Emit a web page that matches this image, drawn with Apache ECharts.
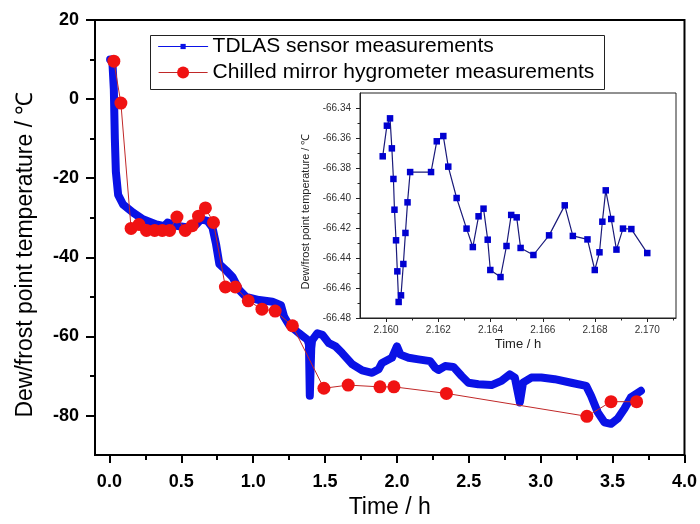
<!DOCTYPE html>
<html>
<head>
<meta charset="utf-8">
<script src="https://cdn.jsdelivr.net/npm/echarts/dist/echarts.min.js"></script>
<style>html,body{margin:0;padding:0;background:#fff}#c{width:700px;height:524px}</style>
</head>
<body>
<div id="c"></div>
<script>
// ---- Main chart data ----
const tdlasTime = [0.005,0.02,0.031,0.038,0.045,0.061,0.096,0.165,0.234,0.327,0.384,0.405,0.465,0.557,0.604,0.638,0.682,0.717,0.742,0.765,0.812,0.857,0.904,0.950,1.042,1.134,1.193,1.215,1.250,1.319,1.377,1.388,1.394,1.400,1.404,1.410,1.446,1.481,1.527,1.573,1.619,1.688,1.758,1.827,1.873,1.896,1.965,2.000,2.024,2.081,2.150,2.231,2.266,2.289,2.335,2.393,2.450,2.497,2.566,2.658,2.727,2.785,2.820,2.855,2.877,2.935,3.004,3.097,3.212,3.316,3.350,3.397,3.443,3.489,3.535,3.582,3.627,3.697];
const tdlasTemp = [10,10,2.5,-10,-18.3,-24.2,-26.7,-28.7,-30.4,-31.7,-32.1,-31.2,-32,-32.5,-31.7,-30.4,-30.8,-32.5,-36.7,-41.7,-43.3,-45,-48.3,-50,-50.8,-51.25,-52.1,-55,-57.1,-59.2,-60.8,-62,-75,-75.2,-63,-61,-59.2,-59.6,-61.7,-62.5,-64.2,-67,-68.6,-69.2,-68.3,-66.7,-65.4,-62.5,-64.6,-65.4,-65.8,-66.25,-67.9,-68.5,-67.5,-67.7,-70,-71.7,-72.1,-72.3,-71.25,-69.6,-70.4,-76.7,-71.7,-70.4,-70.4,-70.8,-71.7,-72.5,-75,-79.2,-81.7,-82.1,-80.8,-78.3,-75.4,-73.75];

const mirrorTime = [0.031,0.080,0.151,0.206,0.258,0.315,0.368,0.419,0.470,0.528,0.576,0.620,0.668,0.724,0.807,0.876,0.966,1.061,1.153,1.273,1.492,1.661,1.882,1.979,2.344,3.321,3.489,3.667];
const mirrorTemp = [9.6,-1,-32.7,-31.7,-33.2,-33.2,-33.2,-33.2,-29.8,-33.2,-32,-29.6,-27.5,-31.2,-47.5,-47.5,-51,-53.1,-53.6,-57.3,-73.1,-72.3,-72.75,-72.75,-74.4,-80.2,-76.5,-76.5];

// ---- Inset data ----
const insetTime = [2.15987,2.16003,2.16015,2.16022,2.16028,2.16032,2.16038,2.16043,2.16048,2.16057,2.16066,2.16074,2.16082,2.16092,2.16172,2.16194,2.16219,2.16238,2.16270,2.16308,2.16332,2.16354,2.16373,2.16389,2.16399,2.16438,2.16461,2.16479,2.16500,2.16515,2.16564,2.16624,2.16684,2.16715,2.16771,2.16799,2.16817,2.16828,2.16841,2.16862,2.16882,2.16907,2.16939,2.17000];
const insetTemp = [-66.3722,-66.3518,-66.3469,-66.3669,-66.3873,-66.4078,-66.4282,-66.4489,-66.4693,-66.4649,-66.4440,-66.4233,-66.4029,-66.3827,-66.3827,-66.3622,-66.3587,-66.3791,-66.4000,-66.4204,-66.4327,-66.4122,-66.4071,-66.4278,-66.4480,-66.4527,-66.4320,-66.4113,-66.4129,-66.4333,-66.4380,-66.4249,-66.4049,-66.4253,-66.4276,-66.4480,-66.4362,-66.4158,-66.3949,-66.4140,-66.4344,-66.4204,-66.4207,-66.4367];

// ---- Tick labels ----
const mainXTicks = [0,0.5,1,1.5,2,2.5,3,3.5,4];
const mainXMinor = [0.25,0.75,1.25,1.75,2.25,2.75,3.25,3.75];
const mainYTicks = [-80,-60,-40,-20,0,20];
const mainYMinor = [-70,-50,-30,-10,10];
const insetXTicks = [2.160,2.162,2.164,2.166,2.168,2.170];
const insetXMinor = [2.161,2.163,2.165,2.167,2.169,2.171];
const insetYTicks = [-66.48,-66.46,-66.44,-66.42,-66.40,-66.38,-66.36,-66.34];
const insetYMinor = [-66.47,-66.45,-66.43,-66.41,-66.39,-66.37,-66.35];

const seriesNames = ['TDLAS sensor measurements','Chilled mirror hygrometer measurements'];
const yName = 'Dew/frost point temperature / \u2103';
const xName = 'Time / h';

const zip = (a,b) => a.map((v,i) => [v,b[i]]);
const FONT = "'Liberation Sans', Arial, sans-serif";
const BLUE = '#0a12e6';

const chart = echarts.init(document.getElementById('c'), null, {renderer:'canvas'});
chart.setOption({
  animation: false,
  textStyle: {fontFamily: FONT},
  grid: [
    {left: 95, top: 20, right: 13, bottom: 65, show: true, borderColor: '#000', borderWidth: 2, backgroundColor: 'transparent'},
    {left: 360, top: 93, width: 316, height: 225, show: true, borderColor: '#222', borderWidth: 1, backgroundColor: '#fff'}
  ],
  graphic: [{
    type: 'rect', left: 148, top: 33, z: 0,
    shape: {width: 454, height: 54},
    style: {fill: 'none', stroke: '#222', lineWidth: 1}
  }],
  legend: [
    {data: [seriesNames[0]], left: 158, top: 36, padding: 0, itemWidth: 49, itemHeight: 6.5,
     textStyle: {fontSize: 21, color: '#000', fontFamily: FONT}, lineStyle: {width: 1.2}},
    {data: [seriesNames[1]], left: 158, top: 62, padding: 0, itemWidth: 49, itemHeight: 15,
     textStyle: {fontSize: 21, color: '#000', fontFamily: FONT}, lineStyle: {width: 1.2}}
  ],
  xAxis: [
    {gridIndex: 0, type: 'value', min: -0.1, max: 4.0, position: 'bottom',
     axisLine: {show: true, onZero: false, lineStyle: {color: '#000', width: 2}},
     axisTick: {show: true, customValues: mainXTicks, length: 8, lineStyle: {color: '#000', width: 2}},
     axisLabel: {customValues: mainXTicks, formatter: v => v.toFixed(1), fontSize: 18, fontWeight: 'bold', color: '#000', margin: 18, fontFamily: FONT},
     splitLine: {show: false},
     name: xName, nameLocation: 'middle', nameGap: 39, nameTextStyle: {fontSize: 23, color: '#000', fontFamily: FONT}},
    {gridIndex: 0, type: 'value', min: -0.1, max: 4.0, position: 'bottom',
     axisLine: {show: false, onZero: false},
     axisTick: {show: true, customValues: mainXMinor, length: 5, lineStyle: {color: '#000', width: 2}},
     axisLabel: {show: false}, splitLine: {show: false}},
    {gridIndex: 1, type: 'value', min: 2.159, max: 2.1711, position: 'bottom',
     axisLine: {show: true, onZero: false, lineStyle: {color: '#222', width: 1}},
     axisTick: {show: true, customValues: insetXTicks, length: 4, lineStyle: {color: '#222', width: 1}},
     axisLabel: {customValues: insetXTicks, formatter: v => v.toFixed(3), fontSize: 10, color: '#333', margin: 7, fontFamily: FONT},
     splitLine: {show: false},
     name: xName, nameLocation: 'middle', nameGap: 20, nameTextStyle: {fontSize: 13, color: '#222', fontFamily: FONT}},
    {gridIndex: 1, type: 'value', min: 2.159, max: 2.1711, position: 'bottom',
     axisLine: {show: false, onZero: false},
     axisTick: {show: true, customValues: insetXMinor, length: 2.5, lineStyle: {color: '#222', width: 1}},
     axisLabel: {show: false}, splitLine: {show: false}}
  ],
  yAxis: [
    {gridIndex: 0, type: 'value', min: -90, max: 20, position: 'left',
     axisLine: {show: true, onZero: false, lineStyle: {color: '#000', width: 2}},
     axisTick: {show: true, customValues: mainYTicks, length: 9, lineStyle: {color: '#000', width: 2}},
     axisLabel: {customValues: mainYTicks, fontSize: 18, fontWeight: 'bold', color: '#000', margin: 16, fontFamily: FONT},
     splitLine: {show: false},
     name: yName, nameLocation: 'middle', nameGap: 58, nameTextStyle: {fontSize: 23, color: '#000', fontFamily: FONT, padding: [0, 34, 0, 0]}},
    {gridIndex: 0, type: 'value', min: -90, max: 20, position: 'left',
     axisLine: {show: false, onZero: false},
     axisTick: {show: true, customValues: mainYMinor, length: 5, lineStyle: {color: '#000', width: 2}},
     axisLabel: {show: false}, splitLine: {show: false}},
    {gridIndex: 1, type: 'value', min: -66.48, max: -66.33, position: 'left',
     axisLine: {show: true, onZero: false, lineStyle: {color: '#222', width: 1}},
     axisTick: {show: true, customValues: insetYTicks, length: 4, lineStyle: {color: '#222', width: 1}},
     axisLabel: {customValues: insetYTicks, formatter: v => v.toFixed(2), fontSize: 10, color: '#333', margin: 9, fontFamily: FONT},
     splitLine: {show: false},
     name: yName, nameLocation: 'middle', nameGap: 49, nameTextStyle: {fontSize: 11, color: '#222', fontFamily: FONT, padding: [0, 12, 0, 0]}},
    {gridIndex: 1, type: 'value', min: -66.48, max: -66.33, position: 'left',
     axisLine: {show: false, onZero: false},
     axisTick: {show: true, customValues: insetYMinor, length: 2.5, lineStyle: {color: '#222', width: 1}},
     axisLabel: {show: false}, splitLine: {show: false}}
  ],
  series: [
    {name: seriesNames[0], type: 'line', xAxisIndex: 0, yAxisIndex: 0, data: zip(tdlasTime, tdlasTemp),
     symbol: 'rect', symbolSize: 5, showSymbol: false, z: 2,
     lineStyle: {color: BLUE, width: 8, join: 'round', cap: 'round'}, itemStyle: {color: BLUE}},
    {name: seriesNames[1], type: 'line', xAxisIndex: 0, yAxisIndex: 0, data: zip(mirrorTime, mirrorTemp),
     symbol: 'circle', symbolSize: 13, z: 3,
     lineStyle: {color: '#c02828', width: 1}, itemStyle: {color: '#f01212'}},
    {name: 'inset', type: 'line', xAxisIndex: 2, yAxisIndex: 2, data: zip(insetTime, insetTemp),
     symbol: 'rect', symbolSize: 6.5, z: 4,
     lineStyle: {color: '#1a1a7a', width: 1.2}, itemStyle: {color: '#0000d0'}}
  ]
});
</script>
</body>
</html>
